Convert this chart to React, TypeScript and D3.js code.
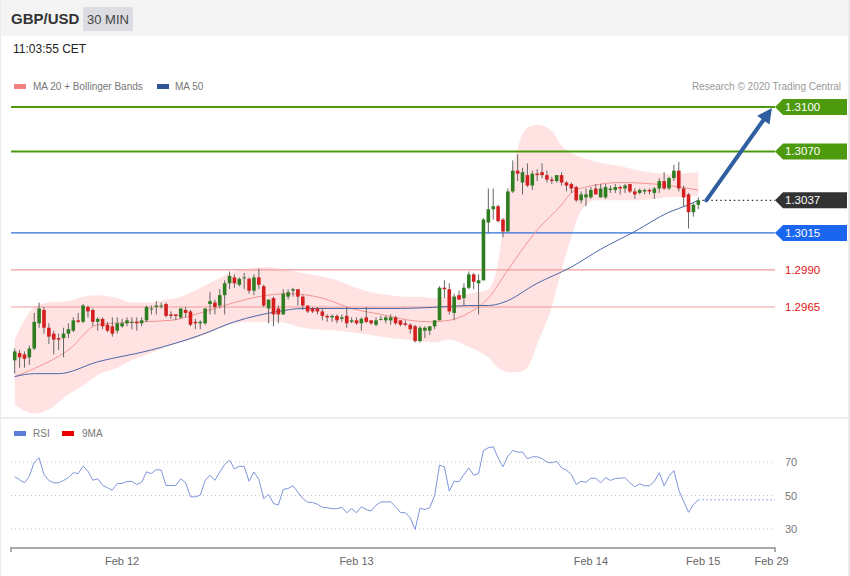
import * as d3 from 'd3';

// 30 min candles: [open, high, low, close]
const candles: [number, number, number, number][] = [
  [1.2929, 1.2937, 1.292, 1.2935], [1.2934, 1.2936, 1.2924, 1.2931], [1.2933, 1.2935, 1.2924, 1.293],
  [1.2931, 1.2939, 1.2926, 1.2937], [1.2937, 1.2961, 1.2936, 1.2955], [1.2954, 1.2968, 1.2951, 1.2964],
  [1.2963, 1.2965, 1.2947, 1.2951], [1.2951, 1.2954, 1.294, 1.2945], [1.2947, 1.2949, 1.2933, 1.2943],
  [1.2944, 1.2947, 1.2936, 1.2943], [1.2944, 1.2951, 1.2931, 1.2947], [1.2947, 1.2954, 1.2944, 1.295],
  [1.2949, 1.2958, 1.2948, 1.2956], [1.2956, 1.2961, 1.2954, 1.2955], [1.2955, 1.2967, 1.2954, 1.2966],
  [1.2965, 1.2966, 1.2958, 1.2962], [1.2963, 1.2964, 1.2952, 1.2955], [1.2955, 1.2958, 1.2949, 1.2957],
  [1.2957, 1.2958, 1.295, 1.2952], [1.2953, 1.2955, 1.2948, 1.2949], [1.2952, 1.2958, 1.2945, 1.2947],
  [1.2949, 1.2958, 1.2947, 1.2954], [1.2952, 1.2957, 1.2951, 1.2954], [1.2954, 1.2958, 1.2952, 1.2956],
  [1.2955, 1.2958, 1.295, 1.2955], [1.2955, 1.2958, 1.2949, 1.2954], [1.2954, 1.2958, 1.2952, 1.2956],
  [1.2956, 1.2966, 1.2955, 1.2965], [1.2964, 1.2966, 1.296, 1.2964], [1.2965, 1.2969, 1.296, 1.2966],
  [1.2966, 1.2968, 1.2964, 1.2966], [1.2967, 1.2968, 1.2958, 1.2959], [1.296, 1.2962, 1.2957, 1.2959],
  [1.296, 1.296, 1.2956, 1.2959], [1.2958, 1.2964, 1.2957, 1.2964], [1.2963, 1.2965, 1.2958, 1.2961],
  [1.2962, 1.2963, 1.2952, 1.2953], [1.2955, 1.2957, 1.295, 1.2954], [1.2954, 1.2956, 1.295, 1.2955],
  [1.2954, 1.2964, 1.2953, 1.2964], [1.2967, 1.2975, 1.296, 1.2969], [1.2968, 1.297, 1.296, 1.2965],
  [1.2966, 1.2977, 1.2964, 1.2973], [1.2973, 1.2983, 1.296, 1.2981], [1.2981, 1.2989, 1.2977, 1.2986],
  [1.2985, 1.2987, 1.2978, 1.2981], [1.298, 1.2985, 1.2979, 1.2984], [1.2985, 1.2988, 1.2977, 1.2985],
  [1.2984, 1.2985, 1.2974, 1.2976], [1.2976, 1.2987, 1.2973, 1.2985], [1.2985, 1.2991, 1.2977, 1.298],
  [1.2979, 1.298, 1.2965, 1.2966], [1.2964, 1.297, 1.2954, 1.297], [1.2971, 1.2972, 1.2952, 1.296],
  [1.2964, 1.2966, 1.2954, 1.296], [1.296, 1.2977, 1.296, 1.2974], [1.2972, 1.2977, 1.297, 1.2975],
  [1.2976, 1.2978, 1.2972, 1.2977], [1.2977, 1.2977, 1.2966, 1.2972], [1.2972, 1.2973, 1.2963, 1.2966],
  [1.2966, 1.2966, 1.2961, 1.2962], [1.2964, 1.2965, 1.2961, 1.2962], [1.2964, 1.2965, 1.296, 1.2962],
  [1.2962, 1.2964, 1.2956, 1.2959], [1.2959, 1.296, 1.2955, 1.2958], [1.2958, 1.296, 1.2955, 1.2959],
  [1.2959, 1.296, 1.2954, 1.2956], [1.2957, 1.296, 1.2955, 1.2958], [1.2959, 1.2965, 1.2951, 1.2954],
  [1.2955, 1.2958, 1.2954, 1.2956], [1.2956, 1.2958, 1.2953, 1.2954], [1.2954, 1.2958, 1.2949, 1.2957],
  [1.2958, 1.2965, 1.2954, 1.2955], [1.2956, 1.2956, 1.2953, 1.2954], [1.2953, 1.2958, 1.2952, 1.2956],
  [1.2957, 1.2959, 1.2956, 1.2957], [1.2956, 1.2959, 1.2954, 1.2958], [1.2956, 1.296, 1.2953, 1.2958],
  [1.2958, 1.2959, 1.2953, 1.2954], [1.2956, 1.2956, 1.2952, 1.2953], [1.2954, 1.2956, 1.2952, 1.2953],
  [1.2953, 1.2954, 1.2947, 1.295], [1.2952, 1.2953, 1.2941, 1.2942], [1.2942, 1.2952, 1.2941, 1.2951],
  [1.2949, 1.2952, 1.2944, 1.2951], [1.2949, 1.2952, 1.2946, 1.2952], [1.2952, 1.2956, 1.295, 1.2956],
  [1.2956, 1.2979, 1.2956, 1.2978], [1.2978, 1.2983, 1.2971, 1.2977], [1.2977, 1.2981, 1.296, 1.2962],
  [1.2961, 1.2974, 1.2956, 1.2972], [1.2973, 1.2976, 1.297, 1.297], [1.2971, 1.2981, 1.2966, 1.2978],
  [1.2978, 1.2989, 1.2977, 1.2987], [1.2987, 1.2988, 1.2977, 1.2982], [1.2981, 1.2987, 1.296, 1.2983],
  [1.2983, 1.3025, 1.2983, 1.3024], [1.3022, 1.3045, 1.3015, 1.3031], [1.3031, 1.3045, 1.3024, 1.3033],
  [1.3033, 1.3034, 1.3022, 1.3023], [1.3024, 1.3025, 1.3012, 1.3016], [1.3016, 1.3045, 1.3016, 1.3043],
  [1.3043, 1.3064, 1.3042, 1.3057], [1.3057, 1.3068, 1.305, 1.3055], [1.3049, 1.3059, 1.3041, 1.3056],
  [1.3054, 1.3062, 1.3046, 1.3047], [1.3047, 1.3057, 1.3044, 1.3055], [1.3055, 1.3058, 1.305, 1.3054],
  [1.3056, 1.3062, 1.3052, 1.3054], [1.3054, 1.3057, 1.3049, 1.3051], [1.3051, 1.3053, 1.3048, 1.305],
  [1.305, 1.3054, 1.3049, 1.3054], [1.3054, 1.3056, 1.3047, 1.3049], [1.3049, 1.305, 1.3043, 1.3047],
  [1.3048, 1.3049, 1.3042, 1.3045], [1.3046, 1.3047, 1.3036, 1.3037], [1.3037, 1.3043, 1.3035, 1.3041],
  [1.3039, 1.3045, 1.3033, 1.3041], [1.3039, 1.3046, 1.3038, 1.3044], [1.3045, 1.3048, 1.3041, 1.3041],
  [1.3039, 1.3048, 1.3039, 1.3045], [1.3039, 1.3048, 1.3038, 1.3046], [1.3044, 1.3047, 1.3042, 1.3045],
  [1.3044, 1.3048, 1.3042, 1.3046], [1.3046, 1.3047, 1.3041, 1.3045], [1.3045, 1.3048, 1.3042, 1.3047],
  [1.3048, 1.3048, 1.3042, 1.3043], [1.3043, 1.3045, 1.3038, 1.3041], [1.3042, 1.3045, 1.3041, 1.3044],
  [1.3043, 1.3045, 1.3041, 1.3044], [1.3044, 1.3045, 1.3041, 1.3043], [1.3042, 1.3046, 1.3038, 1.3045],
  [1.3045, 1.3052, 1.3042, 1.305], [1.305, 1.3056, 1.3044, 1.3045], [1.3045, 1.3053, 1.3044, 1.3052],
  [1.3052, 1.3061, 1.305, 1.3057], [1.3057, 1.3063, 1.3043, 1.3045], [1.3045, 1.3047, 1.3033, 1.3039],
  [1.3041, 1.3042, 1.3018, 1.3029], [1.3029, 1.3035, 1.3026, 1.3034], [1.3034, 1.3039, 1.3031, 1.3037],
];

// Bollinger bands read at sample candles
const bandIdx = [0, 2, 4, 7, 11, 14, 17, 21, 24, 28, 31, 34, 38, 41, 45, 48, 52, 54, 59, 66, 69, 73, 77, 80, 83, 86, 89, 93, 95, 97, 99, 100, 101, 102, 103, 105, 107, 110, 112, 114, 116, 119, 124, 128, 134, 140];
const bandUpper = [1.2943, 1.2956, 1.2965, 1.2968, 1.2969, 1.2972, 1.2973, 1.2971, 1.2968, 1.2968, 1.297, 1.2972, 1.2978, 1.2983, 1.2989, 1.2991, 1.2992, 1.2991, 1.2988, 1.2983, 1.2979, 1.2975, 1.2973, 1.2972, 1.2972, 1.2971, 1.2972, 1.2974, 1.2975, 1.2977, 1.2995, 1.302, 1.3038, 1.3057, 1.3072, 1.3086, 1.3088, 1.3084, 1.3074, 1.3069, 1.3066, 1.3063, 1.306, 1.3057, 1.3055, 1.3056];
const bandLower = [1.2899, 1.2895, 1.2893, 1.2896, 1.2906, 1.2912, 1.2919, 1.2924, 1.2929, 1.2934, 1.2938, 1.2941, 1.2945, 1.2949, 1.2954, 1.2955, 1.2955, 1.2955, 1.2951, 1.2949, 1.2948, 1.2946, 1.2944, 1.2943, 1.2942, 1.2941, 1.2943, 1.2938, 1.2935, 1.2931, 1.2924, 1.2922, 1.2921, 1.2921, 1.2921, 1.2924, 1.294, 1.2965, 1.299, 1.3012, 1.303, 1.3037, 1.3037, 1.3037, 1.3039, 1.304];

const ma20: [number, number][] = [
  [0, 1.2918], [3, 1.2922], [11, 1.2936], [17, 1.2953], [26, 1.2955], [32, 1.2956], [38, 1.2961],
  [45, 1.2968], [50, 1.2972], [56, 1.2974], [63, 1.2971], [69, 1.2964], [75, 1.296], [81, 1.2956],
  [85, 1.2955], [89, 1.2956], [93, 1.2961], [97, 1.2971], [101, 1.299], [107, 1.3017], [112, 1.3034],
  [114, 1.3042], [117, 1.3046], [124, 1.3049], [134, 1.3047], [140, 1.3044],
];
const ma50: [number, number][] = [
  [0, 1.2918], [4, 1.292], [9, 1.292], [17, 1.2928], [28, 1.2936], [38, 1.2946], [45, 1.2955],
  [54, 1.2962], [59, 1.2964], [66, 1.2964], [79, 1.2964], [87, 1.2965], [93, 1.2966], [97, 1.2966],
  [100, 1.2968], [107, 1.2981], [114, 1.2992], [120, 1.3004], [127, 1.3016], [134, 1.3029], [138, 1.3034], [140, 1.3037],
];

const rsi = [
  61.2, 59.4, 57.6, 61.5, 69.9, 72.5, 62.5, 59.0, 57.6, 57.6, 59.0, 60.6, 63.6, 63.1, 67.5, 64.5, 59.1, 60.0,
  56.1, 54.6, 53.2, 57.2, 57.2, 58.4, 58.4, 56.6, 57.9, 64.1, 63.1, 65.5, 65.1, 56.0, 56.0, 56.0, 60.0, 57.6,
  49.2, 49.2, 50.2, 59.0, 62.1, 59.1, 64.1, 68.5, 71.1, 65.9, 67.5, 67.3, 58.5, 64.1, 59.6, 48.2, 50.6, 45.2,
  44.4, 53.6, 54.2, 55.8, 52.0, 48.2, 46.0, 45.8, 44.8, 43.0, 42.7, 42.1, 42.1, 43.0, 39.7, 42.2, 39.7, 43.3,
  41.6, 40.8, 44.2, 46.2, 46.2, 46.2, 43.3, 39.9, 39.7, 36.7, 29.7, 42.4, 41.6, 42.7, 50.0, 68.1, 67.1, 52.6,
  58.5, 58.2, 62.5, 66.5, 62.1, 63.1, 76.9, 78.5, 79.1, 72.5, 67.1, 73.5, 76.9, 75.9, 75.9, 71.9, 73.1, 73.1,
  72.1, 69.9, 69.5, 70.5, 66.5, 65.1, 62.5, 56.6, 58.5, 57.9, 60.3, 60.3, 57.6, 60.6, 59.0, 60.1, 60.3, 60.6,
  57.6, 55.2, 57.0, 55.8, 55.8, 58.4, 63.6, 55.8, 61.5, 64.9, 53.2, 46.6, 40.0, 44.6, 47.4,
];
const rsiLevels = [70, 50, 30];

const dateTicks = [
  { label: 'Feb 12', idx: 22 },
  { label: 'Feb 13', idx: 70 },
  { label: 'Feb 14', idx: 118 },
  { label: 'Feb 15', idx: 141 },
  { label: 'Feb 29', idx: 155 },
];

const resistances = [1.31, 1.307];
const lastPrice = 1.3037;
const pivot = 1.3015;
const supports = [1.299, 1.2965];

const FONT = '"Liberation Sans", Arial, sans-serif';
const GREEN = '#4e9a0e';
const UP = '#2f7d21';
const DOWN = '#d51f1f';

function Tag({ y, text, fill }: { y: number; text: string; fill: string }) {
  const x0 = 775;
  const h = 8;
  return (
    <g>
      <path d={`M${x0},${y} L${x0 + 8},${y - h} L847,${y - h} L847,${y + h} L${x0 + 8},${y + h} Z`} fill={fill} />
      <text x={x0 + 10} y={y + 4} fontSize={11.5} fill="#fff">{text}</text>
    </g>
  );
}

export default function App() {
  const W = 850;
  const H = 576;
  const left = 11;
  const right = 775;

  const x = d3.scaleLinear().domain([0, 140]).range([14.7, 698.3]);
  const y = d3.scaleLinear().domain([1.2965, 1.31]).range([307, 107]);
  const ry = d3.scaleLinear().domain([30, 70]).range([529, 462]);

  const band = d3
    .area<number>()
    .x((i) => x(bandIdx[i]))
    .y0((i) => y(bandLower[i]))
    .y1((i) => y(bandUpper[i]))
    .curve(d3.curveMonotoneX)(bandIdx.map((_, i) => i));

  const maLine = d3
    .line<[number, number]>()
    .x((d) => x(d[0]))
    .y((d) => y(d[1]))
    .curve(d3.curveMonotoneX);

  const rsiLine = d3
    .line<number>()
    .x((_, i) => x(i))
    .y((d) => ry(d))(rsi);

  const bodyW = 3.6;
  const lastX = x(candles.length - 1);

  // forecast arrow to first resistance
  const ax0 = lastX + 8;
  const ay0 = y(lastPrice);
  const ax1 = right - 3;
  const ay1 = y(resistances[0]) + 1;
  const ang = Math.atan2(ay1 - ay0, ax1 - ax0);
  const hl = 15;
  const hw = 7.5;
  const bx = ax1 - hl * Math.cos(ang);
  const by = ay1 - hl * Math.sin(ang);
  const head = `M${ax1},${ay1} L${bx + hw * Math.sin(ang)},${by - hw * Math.cos(ang)} L${bx - hw * Math.sin(ang)},${by + hw * Math.cos(ang)} Z`;

  return (
    <div style={{ position: 'absolute', left: 0, top: 0 }}>
      <svg width={W} height={H} viewBox={`0 0 ${W} ${H}`} fontFamily={FONT}>
        <rect x={0} y={0} width={W} height={H} fill="#fff" />
        <rect x={0} y={0} width={W} height={36} fill="#f4f4f5" />
        <rect x={0} y={417} width={W} height={2} fill="#ececee" />
        <rect x={0} y={0} width={1} height={H} fill="#ececee" />
        <rect x={W - 2} y={0} width={2} height={H} fill="#ececee" />

        <text x={11} y={24} fontSize={15} fontWeight={700} fill="#333">GBP/USD</text>
        <rect x={83} y={7} width={50} height={24} fill="#dcdde2" />
        <text x={108} y={24} fontSize={13} fill="#444" textAnchor="middle">30 MIN</text>
        <text x={13} y={53} fontSize={12} fill="#222">11:03:55 CET</text>

        <rect x={14} y={84} width={12} height={5} fill="#f28080" />
        <text x={33} y={90} fontSize={10} fill="#777">MA 20 + Bollinger Bands</text>
        <rect x={157} y={84} width={12} height={5} fill="#2f5597" />
        <text x={175} y={90} fontSize={10} fill="#777">MA 50</text>
        <text x={841} y={90} fontSize={10} fill="#999" textAnchor="end">Research © 2020 Trading Central</text>

        <path d={band ?? undefined} fill="#ffe0e0" opacity={0.9} />

        {resistances.map((p) => (
          <line key={p} x1={left} x2={right} y1={y(p)} y2={y(p)} stroke={GREEN} strokeWidth={2} />
        ))}
        <line x1={left} x2={right} y1={y(pivot)} y2={y(pivot)} stroke="#2b6fd8" strokeWidth={1.2} />
        {supports.map((p) => (
          <line key={p} x1={left} x2={right} y1={y(p)} y2={y(p)} stroke="#f29b9b" strokeWidth={1.2} />
        ))}

        <path d={maLine(ma20) ?? undefined} fill="none" stroke="#f39494" strokeWidth={1} />
        <path d={maLine(ma50) ?? undefined} fill="none" stroke="#4a68a8" strokeWidth={1} />

        {candles.map(([o, h, l, c], i) => {
          const up = c >= o;
          const top = y(Math.max(o, c));
          const bh = Math.max(1, y(Math.min(o, c)) - top);
          return (
            <g key={i}>
              <line x1={x(i)} x2={x(i)} y1={y(h)} y2={y(l)} stroke="#666" strokeWidth={1} />
              <rect x={x(i) - bodyW / 2} y={top} width={bodyW} height={bh} fill={up ? UP : DOWN} />
            </g>
          );
        })}

        <line x1={lastX + 4} x2={right} y1={y(lastPrice)} y2={y(lastPrice)} stroke="#333" strokeWidth={1.2} strokeDasharray="1.5,3" />

        <line x1={ax0} y1={ay0} x2={bx} y2={by} stroke="#2f5f9f" strokeWidth={4} strokeLinecap="round" />
        <path d={head} fill="#2f5f9f" />

        {resistances.map((p) => (
          <Tag key={p} y={y(p)} text={p.toFixed(4)} fill={GREEN} />
        ))}
        <Tag y={y(lastPrice)} text={lastPrice.toFixed(4)} fill="#333" />
        <Tag y={y(pivot)} text={pivot.toFixed(4)} fill="#1a66ee" />
        {supports.map((p) => (
          <text key={p} x={785} y={y(p) + 4} fontSize={11.5} fill="#e01515">{p.toFixed(4)}</text>
        ))}

        {/* RSI panel */}
        <rect x={14} y={431} width={12} height={5} fill="#5b7fd6" />
        <text x={33} y={437} fontSize={10} fill="#777">RSI</text>
        <rect x={62} y={431} width={12} height={5} fill="#e00" />
        <text x={82} y={437} fontSize={10} fill="#777">9MA</text>

        {rsiLevels.map((v) => (
          <g key={v}>
            <line x1={left} x2={right} y1={ry(v)} y2={ry(v)} stroke="#c4c4c4" strokeWidth={1} strokeDasharray="1,3" />
            <text x={785} y={ry(v) + 4} fontSize={11} fill="#777">{v}</text>
          </g>
        ))}
        <path d={rsiLine ?? undefined} fill="none" stroke="#7d95db" strokeWidth={1} />
        <line x1={lastX} x2={right} y1={ry(rsi[rsi.length - 1])} y2={ry(rsi[rsi.length - 1])} stroke="#7d95db" strokeWidth={1} strokeDasharray="1.5,2.5" />

        <path d={`M${left},552 L${left},548 L${right},548 L${right},552`} fill="none" stroke="#aaa" strokeWidth={2} />
        {dateTicks.map((t) => (
          <text key={t.label} x={x(t.idx)} y={565} fontSize={11} fill="#666" textAnchor="middle">{t.label}</text>
        ))}
      </svg>
    </div>
  );
}
